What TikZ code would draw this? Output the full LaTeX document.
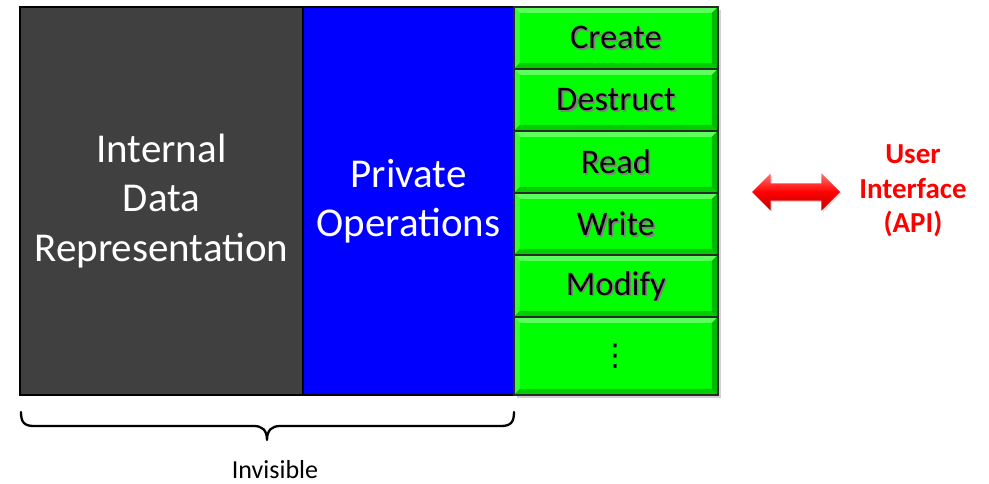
\documentclass[tikz,border=0pt]{standalone}
\usepackage{fontspec}
\setmainfont{Carlito}
\newfontfamily\dotsfont{DejaVu Sans}
\usetikzlibrary{shapes.arrows,shadows,calc}

\definecolor{panelgray}{HTML}{404040}
\definecolor{panelblue}{HTML}{0000FF}
\definecolor{btngreen}{HTML}{00FF00}
\definecolor{bevellight}{HTML}{5CFF5C}
\definecolor{bevelside}{HTML}{33FF33}
\definecolor{beveldark}{HTML}{00CC00}
\definecolor{btnedge}{HTML}{2A2A2A}
\definecolor{apired}{HTML}{FF0000}

\newcommand\btnfont{\fontsize{34.5}{40}\selectfont}
% label with a soft grey drop shadow underneath
\newcommand\btnlabel[2]{%
  \node[text=black!50, font=\btnfont] at ([xshift=1.8pt,yshift=-1.8pt]#1.center) {#2};
  \node[text=black, font=\btnfont] at (#1.center) {#2};}

\tikzset{
  panel/.style={draw=black, line width=2pt, inner sep=0pt, anchor=north west,
    text=white, align=center, font=\fontsize{41}{49.5}\selectfont},
  btn/.style={fill=btngreen, draw=btnedge, line width=1.8pt, inner sep=0pt,
    minimum width=204pt, anchor=north west,
    path picture={
      \fill[bevellight] (path picture bounding box.north west)
        -- (path picture bounding box.north east)
        -- ([xshift=-6pt,yshift=-6pt]path picture bounding box.north east)
        -- ([xshift=6pt,yshift=-6pt]path picture bounding box.north west) -- cycle;
      \fill[bevelside] (path picture bounding box.north west)
        -- ([xshift=6pt,yshift=-6pt]path picture bounding box.north west)
        -- ([xshift=6pt,yshift=6pt]path picture bounding box.south west)
        -- (path picture bounding box.south west) -- cycle;
      \fill[beveldark] (path picture bounding box.south west)
        -- (path picture bounding box.south east)
        -- ([xshift=-6pt,yshift=6pt]path picture bounding box.south east)
        -- ([xshift=6pt,yshift=6pt]path picture bounding box.south west) -- cycle;
      \fill[beveldark!90!black] (path picture bounding box.north east)
        -- ([xshift=-6pt,yshift=-6pt]path picture bounding box.north east)
        -- ([xshift=-6pt,yshift=6pt]path picture bounding box.south east)
        -- (path picture bounding box.south east) -- cycle;
    }},
  apilabel/.style={text=apired, align=center, font=\bfseries\fontsize{29}{34.5}\selectfont},
  brace/.style={line width=2.3pt, line cap=round, line join=round},
}

\begin{document}
\begin{tikzpicture}[x=1pt,y=-1pt]
\useasboundingbox (0,0) rectangle (989,483);

% hidden part of the module
\node[panel, fill=panelgray, minimum width=283pt, minimum height=388pt] (internal) at (19,6)
  {Internal\\Data\\Representation};
\node[panel, fill=panelblue, minimum width=211pt, minimum height=388pt] (private) at (302,6)
  {Private\\Operations};

% public operations column, with a soft drop shadow
\fill[black!30, opacity=0.6] (517,10) rectangle (721,398);
\node[btn, minimum height=62pt] (create)   at (513,6)   {};
\node[btn, minimum height=62pt] (destruct) at (513,68)  {};
\node[btn, minimum height=62pt] (read)     at (513,130) {};
\node[btn, minimum height=62pt] (write)    at (513,192) {};
\node[btn, minimum height=62pt] (modify)   at (513,254) {};
\node[btn, minimum height=78pt] (more)     at (513,316) {};
\btnlabel{create}{Create}
\btnlabel{destruct}{Destruct}
\btnlabel{read}{Read}
\btnlabel{write}{Write}
\btnlabel{modify}{Modify}
\node[font=\dotsfont\fontsize{30}{30}\selectfont] at (more.center) {⋮};

% interface arrow and its label
\node[double arrow, double arrow head extend=10pt, minimum height=88pt,
  inner sep=8.5pt, top color=apired!55!white, bottom color=apired!75!black,
  middle color=apired, draw=none,
  drop shadow={shadow xshift=1.5pt, shadow yshift=-1.5pt, opacity=0.3}] (arrow) at (796,192) {};
\node[apilabel] (api) at (913,191) {User\\Interface\\(API)};

% brace under the hidden part
\coordinate (braceL) at (21,412);
\coordinate (braceR) at (514,412);
\coordinate (braceTip) at (267,440);
\draw[brace] (braceL) .. controls (21,422) and (24,426) .. (34,426)
  -- (254,426) .. controls (262,426) and (267,430) .. (braceTip)
  .. controls (267,430) and (272,426) .. (280,426)
  -- (501,426) .. controls (511,426) and (514,422) .. (braceR);
\node[font=\fontsize{26}{31}\selectfont, anchor=base, inner sep=0pt] (invisible) at (275,478) {Invisible};
\end{tikzpicture}
\end{document}
